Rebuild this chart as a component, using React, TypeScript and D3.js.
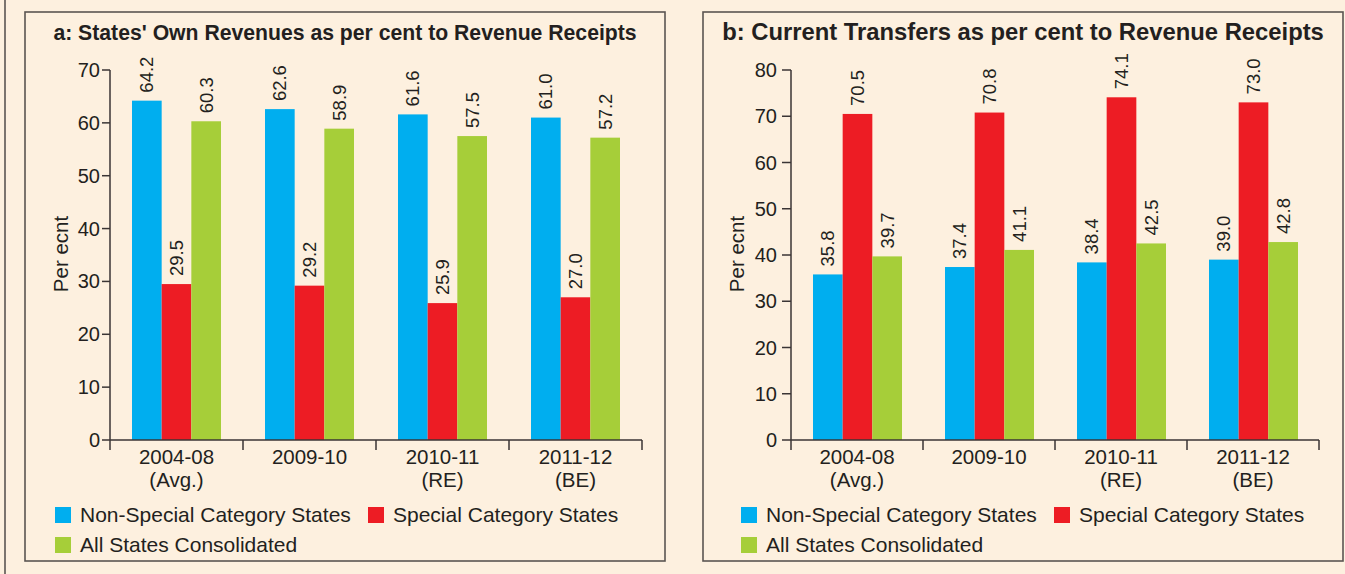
import React from "react";
import * as d3 from "d3";

const categories = ["2004-08|(Avg.)", "2009-10", "2010-11|(RE)", "2011-12|(BE)"];
const seriesNames = ["Non-Special Category States", "Special Category States", "All States Consolidated"];
const colors = ["#00AEEF", "#ED1C24", "#A6CE39"];

const ownRevNonSpecial = [64.2, 62.6, 61.6, 61.0];
const ownRevSpecial = [29.5, 29.2, 25.9, 27.0];
const ownRevAll = [60.3, 58.9, 57.5, 57.2];

const transNonSpecial = [35.8, 37.4, 38.4, 39.0];
const transSpecial = [70.5, 70.8, 74.1, 73.0];
const transAll = [39.7, 41.1, 42.5, 42.8];

const ticksA = [0, 10, 20, 30, 40, 50, 60, 70];
const ticksB = [0, 10, 20, 30, 40, 50, 60, 70, 80];

const TEXT = "#231F20";
const FONT = "'Liberation Sans', Arial, sans-serif";

type PanelProps = {
  ox: number;
  title: string;
  titleSize: number;
  series: number[][];
  ticks: number[];
  yMax: number;
  labelOffset: number;
  axisOffset: number;
  axisLen: number;
  tickLen: number;
  tickGap: number;
  legendOffset: number;
};

function Panel(p: PanelProps) {
  const { ox, title, titleSize, series, ticks, yMax, labelOffset, axisOffset, axisLen, tickLen, tickGap, legendOffset } = p;
  const axisX = ox + axisOffset;
  const x = d3.scaleBand<string>().domain(categories).range([axisX, axisX + axisLen]).padding(0);
  const inner = d3.scaleBand<number>().domain([0, 1, 2]).range([22, 22 + 89]).padding(0);
  const y = d3.scaleLinear().domain([0, yMax]).range([440, 70]);
  const bw = inner.bandwidth();
  return (
    <g>
      <rect x={ox} y={12} width={640} height={549} fill="none" stroke="#5B5552" strokeWidth={1.6} />
      <text
        x={ox + 320}
        y={40}
        textAnchor="middle"
        fontFamily={FONT}
        fontWeight="bold"
        fontSize={titleSize}
        fill={TEXT}
      >
        {title}
      </text>
      {/* y axis label */}
      <text
        transform={`translate(${ox + labelOffset},${254}) rotate(-90)`}
        textAnchor="middle"
        fontFamily={FONT}
        fontSize={20.5}
        fill={TEXT}
      >
        Per ecnt
      </text>
      {/* bars */}
      {categories.map((c, ci) =>
        series.map((s, si) => {
          const v = s[ci];
          const bx = (x(c) as number) + (inner(si) as number);
          return (
            <g key={c + si}>
              <rect x={bx} y={y(v)} width={bw} height={y(0) - y(v)} fill={colors[si]} />
              <text
                transform={`translate(${bx + bw / 2 + 6.5},${y(v) - 8}) rotate(-90)`}
                fontFamily={FONT}
                fontSize={18.5}
                fill={TEXT}
              >
                {v.toFixed(1)}
              </text>
            </g>
          );
        })
      )}
      {/* y axis */}
      <line x1={axisX} x2={axisX} y1={y(yMax)} y2={y(0)} stroke="#3A3535" strokeWidth={1.5} />
      {ticks.map((t) => (
        <g key={t}>
          <line x1={axisX - tickLen} x2={axisX} y1={y(t)} y2={y(t)} stroke="#3A3535" strokeWidth={1.5} />
          <text
            x={axisX - tickGap}
            y={y(t)}
            dy="0.35em"
            textAnchor="end"
            fontFamily={FONT}
            fontSize={20}
            fill={TEXT}
          >
            {t}
          </text>
        </g>
      ))}
      {/* x axis */}
      <line x1={axisX} x2={axisX + axisLen} y1={y(0)} y2={y(0)} stroke="#3A3535" strokeWidth={1.5} />
      {[...categories.map((c) => x(c) as number), axisX + axisLen].map((tx, i) => (
        <line key={i} x1={tx} x2={tx} y1={y(0)} y2={y(0) + 10} stroke="#3A3535" strokeWidth={1.5} />
      ))}
      {categories.map((c) => {
        const lines = c.split("|");
        const cx = (x(c) as number) + x.bandwidth() / 2;
        return lines.map((l, li) => (
          <text
            key={c + li}
            x={cx}
            y={464 + li * 23}
            textAnchor="middle"
            fontFamily={FONT}
            fontSize={20.5}
            fill={TEXT}
          >
            {l}
          </text>
        ));
      })}
      {/* legend */}
      {seriesNames.map((n, i) => {
        const lx = ox + legendOffset + (i === 1 ? 313 : 0);
        const ly = i === 2 ? 537 : 507;
        return (
          <g key={n}>
            <rect x={lx} y={ly} width={16} height={16} fill={colors[i]} />
            <text x={lx + 25} y={ly + 15} fontFamily={FONT} fontSize={21} fill={TEXT}>
              {n}
            </text>
          </g>
        );
      })}
    </g>
  );
}

export default function App() {
  return (
    <svg
      width={1345}
      height={574}
      style={{ position: "absolute", left: 0, top: 0, display: "block" }}
    >
      <rect x={0} y={0} width={1345} height={574} fill="#FDF0DF" />
      <line x1={5} x2={5} y1={0} y2={574} stroke="#5B5552" strokeWidth={1.6} />
      <Panel
        ox={25}
        title="a: States' Own Revenues as per cent to Revenue Receipts"
        titleSize={21.2}
        series={[ownRevNonSpecial, ownRevSpecial, ownRevAll]}
        ticks={ticksA}
        yMax={70}
        labelOffset={43}
        axisOffset={85}
        axisLen={532}
        tickLen={8}
        tickGap={10}
        legendOffset={30}
      />
      <Panel
        ox={703}
        title="b: Current Transfers as per cent to Revenue Receipts"
        titleSize={23.8}
        series={[transNonSpecial, transSpecial, transAll]}
        ticks={ticksB}
        yMax={80}
        labelOffset={41}
        axisOffset={88}
        axisLen={528}
        tickLen={9}
        tickGap={14}
        legendOffset={38}
      />
    </svg>
  );
}
